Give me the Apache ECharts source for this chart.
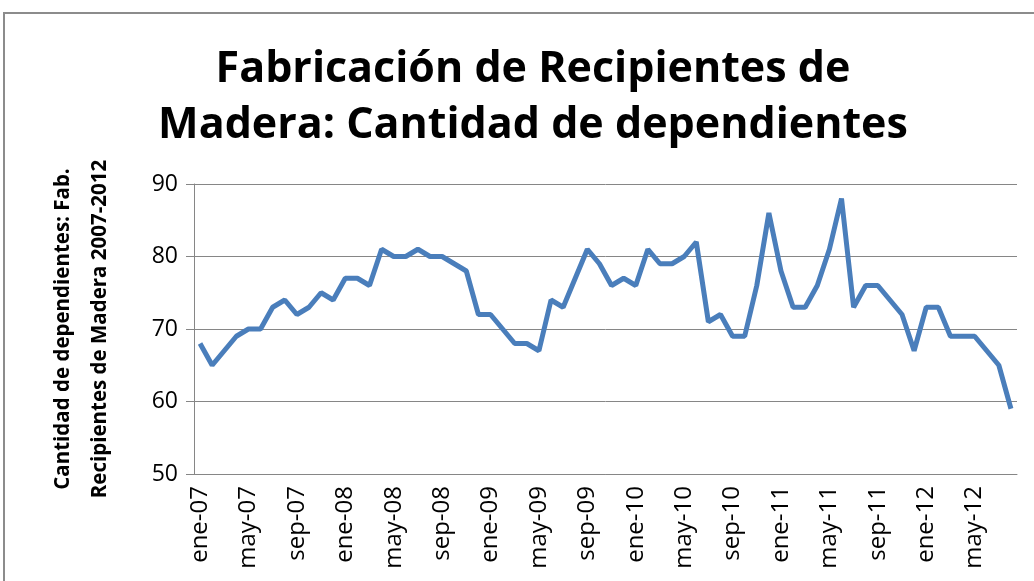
<!DOCTYPE html>
<html>
<head>
<meta charset="utf-8">
<script src="https://cdn.jsdelivr.net/npm/echarts@6/dist/echarts.min.js"></script>
<style>
  html, body { margin: 0; padding: 0; background: #fff; }
  #chart { width: 1034px; height: 581px; }
</style>
</head>
<body>
<div id="chart"></div>
<script>
// meses y años del eje x (ene-07 .. ago-12)
var meses = ["ene", "feb", "mar", "abr", "may", "jun", "jul", "ago", "sep", "oct", "nov", "dic"];
var anios = ["07", "08", "09", "10", "11", "12"];
var ultimoMes = 8; // ago-12

var categorias = [];
anios.forEach(function (a, i) {
  var n = i === anios.length - 1 ? ultimoMes : 12;
  for (var m = 0; m < n; m++) categorias.push(meses[m] + "-" + a);
});

// cantidad de dependientes
var dependientes = [
  68, 65, 67, 69, 70, 70, 73, 74, 72, 73, 75, 74,
  77, 77, 76, 81, 80, 80, 81, 80, 80, 79, 78, 72,
  72, 70, 68, 68, 67, 74, 73, 77, 81, 79, 76, 77,
  76, 81, 79, 79, 80, 82, 71, 72, 69, 69, 76, 86,
  78, 73, 73, 76, 81, 88, 73, 76, 76, 74, 72, 67,
  73, 73, 69, 69, 69, 67, 65, 59
];

var ticksY = [50, 60, 70, 80, 90];

var gris = "#868686";
var fuente = "Open Sans";

var chart = echarts.init(document.getElementById("chart"));
var option = {
  animation: false,
  graphic: [{
    type: "rect",
    shape: { x: 4, y: 13, width: 1040, height: 580 },
    style: { fill: "none", stroke: "#8c8c8c", lineWidth: 2 }
  }],
  title: {
    text: "Fabricación de Recipientes de\nMadera: Cantidad de dependientes",
    left: 528,
    top: 37,
    textAlign: "center",
    textStyle: {
      fontFamily: fuente,
      fontWeight: "bold",
      fontSize: 43,
      lineHeight: 56,
      color: "#000"
    }
  },
  grid: {
    left: 194,
    right: 17,
    top: 184,
    bottom: 107
  },
  xAxis: {
    type: "category",
    boundaryGap: true,
    data: categorias,
    axisLine: { lineStyle: { color: gris, width: 1 } },
    axisTick: { interval: 3, length: 9, lineStyle: { color: gris } },
    axisLabel: {
      interval: 3,
      rotate: 90,
      margin: 12,
      fontFamily: fuente,
      fontSize: 24,
      color: "#000"
    }
  },
  yAxis: {
    type: "value",
    min: ticksY[0],
    max: ticksY[ticksY.length - 1],
    interval: 10,
    name: "Cantidad de dependientes: Fab.\nRecipientes de Madera 2007-2012",
    nameLocation: "middle",
    nameRotate: 90,
    nameGap: 75,
    nameTextStyle: {
      fontFamily: fuente,
      fontWeight: "bold",
      fontSize: 20.5,
      lineHeight: 37,
      color: "#000"
    },
    axisLine: { show: true, lineStyle: { color: gris, width: 1 } },
    axisTick: { show: true, length: 8, lineStyle: { color: gris } },
    axisLabel: {
      margin: 16,
      fontFamily: fuente,
      fontSize: 23,
      color: "#000"
    },
    splitLine: { lineStyle: { color: gris, width: 1 } }
  },
  series: [{
    type: "line",
    data: dependientes,
    symbol: "none",
    lineStyle: { color: "#4A7EBB", width: 5 }
  }]
};
chart.setOption(option);
</script>
</body>
</html>
